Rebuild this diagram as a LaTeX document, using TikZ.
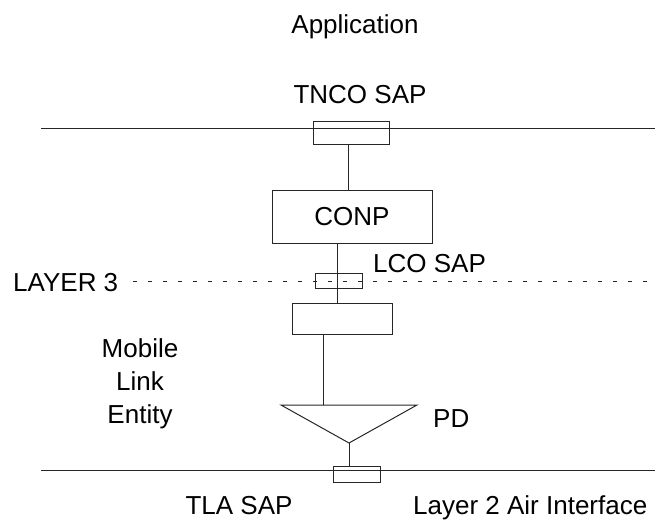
\documentclass[tikz,border=0pt]{standalone}
\usepackage{fontspec}
\setmainfont{Liberation Sans}
\begin{document}
\begin{tikzpicture}[x=1pt,y=-1pt,
  ln/.style={draw=black!85,line width=1pt},
  box/.style={ln,rectangle,inner sep=0pt,outer sep=0pt,fill=none},
  lbl/.style={inner sep=0pt,font=\fontsize{26}{31}\selectfont,text=black},
  dsh/.style={ln,dash pattern=on 4pt off 11pt}]
\useasboundingbox (0,0) rectangle (655,520);
% labels
\node[lbl,anchor=base] (app) at (355,33) {Application};
\node[lbl,anchor=base] (tncot) at (360,103) {TNCO SAP};
\node[lbl,anchor=base west] (lcot) at (373,272) {LCO SAP};
\node[lbl,anchor=base west] (l3) at (13,291) {LAYER 3};
\node[lbl,anchor=base] (mob) at (140,357) {Mobile};
\node[lbl,anchor=base] (lnk) at (140,390) {Link};
\node[lbl,anchor=base] (ent) at (140,423) {Entity};
\node[lbl,anchor=base west] (pdt) at (433,427) {PD};
\node[lbl,anchor=base] (tlat) at (239,514) {TLA SAP};
\node[lbl,anchor=base west] (l2t) at (413,514) {Layer 2 Air Interface};
% horizontal layer lines
\coordinate (tl1) at (41,128); \coordinate (tl2) at (655,128);
\coordinate (dl1) at (133,281); \coordinate (dl2) at (647,281);
\coordinate (bl1) at (41,470); \coordinate (bl2) at (655,470);
\draw[ln] (tl1) -- (tl2);
\draw[dsh] (dl1) -- (dl2);
\draw[ln] (bl1) -- (bl2);
% boxes
\node[box,minimum width=76pt,minimum height=23pt] (tnco) at (351,132.5) {};
\node[box,minimum width=160pt,minimum height=53pt,lbl,draw=black!85,line width=1pt] (conp) at (352,216.5) {CONP};
\node[box,minimum width=47pt,minimum height=15pt] (lco) at (338.5,280.5) {};
\node[box,minimum width=100pt,minimum height=31pt] (mle) at (342,318.5) {};
\node[box,minimum width=47pt,minimum height=16pt] (tla) at (356.5,474) {};
% triangle
\coordinate (trl) at (281,405); \coordinate (trr) at (417,405); \coordinate (pd) at (349,443);
\draw[ln,line join=miter] (trl) -- (trr) -- (pd) -- cycle;
% connectors
\draw[ln] (tnco.south -| 348,0) -- (conp.north -| 348,0);
\draw[ln] (conp.south -| 337,0) -- (mle.north -| 337,0);
\draw[ln] (mle.south -| 323,0) -- (trl -| 323,0);
\draw[ln] (pd) -- (pd |- tla.north);
\end{tikzpicture}
\end{document}
